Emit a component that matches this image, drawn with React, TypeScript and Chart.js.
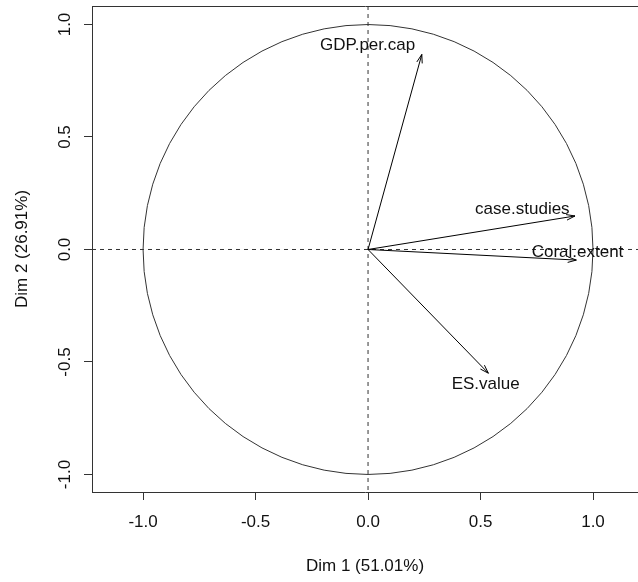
import React, { useEffect, useRef } from "react";
import { Chart, registerables } from "chart.js";

Chart.register(...registerables);

// Variables (arrows) on the first two dimensions
const variables = ["GDP.per.cap", "case.studies", "Coral.extent", "ES.value"];
const dim1 = [0.239, 0.92, 0.926, 0.535];
const dim2 = [0.867, 0.149, -0.047, -0.55];
// label anchor positions (data units)
const labelDim1 = [-0.002, 0.686, 0.931, 0.523];
const labelDim2 = [0.909, 0.18, -0.013, -0.598];

const xTicks = [-1.0, -0.5, 0.0, 0.5, 1.0];
const yTicks = [-1.0, -0.5, 0.0, 0.5, 1.0];
const xTitle = "Dim 1 (51.01%)";
const yTitle = "Dim 2 (26.91%)";

const FONT = "'Liberation Sans', Arial, sans-serif";
const FS = 17;
const TEXT = "#111";
const LINE = "#333";

const decorPlugin = {
  id: "decor",
  beforeDatasetsDraw(chart: any) {
    const { ctx, chartArea, scales } = chart;
    const xs = scales.x;
    const ys = scales.y;
    const x0 = xs.getPixelForValue(0);
    const y0 = ys.getPixelForValue(0);
    ctx.save();
    // top border
    ctx.strokeStyle = LINE;
    ctx.lineWidth = 1;
    ctx.beginPath();
    ctx.moveTo(chartArea.left, chartArea.top + 0.5);
    ctx.lineTo(chartArea.right + 10, chartArea.top + 0.5);
    ctx.stroke();
    // dashed axes
    ctx.setLineDash([4, 4]);
    ctx.beginPath();
    ctx.moveTo(chartArea.left, y0);
    ctx.lineTo(chartArea.right, y0);
    ctx.moveTo(x0, chartArea.top);
    ctx.lineTo(x0, chartArea.bottom);
    ctx.stroke();
    ctx.setLineDash([]);
    // unit circle
    const r = xs.getPixelForValue(1) - x0;
    ctx.beginPath();
    ctx.arc(x0, y0, r, 0, Math.PI * 2);
    ctx.stroke();
    ctx.restore();
  },
  afterDatasetsDraw(chart: any) {
    const { ctx, scales } = chart;
    const xs = scales.x;
    const ys = scales.y;
    const x0 = xs.getPixelForValue(0);
    const y0 = ys.getPixelForValue(0);
    ctx.save();
    ctx.strokeStyle = "#000";
    ctx.lineWidth = 1;
    const len = 9;
    const ang = (18 * Math.PI) / 180;
    for (let i = 0; i < variables.length; i++) {
      const tx = xs.getPixelForValue(dim1[i]);
      const ty = ys.getPixelForValue(dim2[i]);
      const a = Math.atan2(ty - y0, tx - x0);
      ctx.beginPath();
      ctx.moveTo(tx - len * Math.cos(a - ang), ty - len * Math.sin(a - ang));
      ctx.lineTo(tx, ty);
      ctx.lineTo(tx - len * Math.cos(a + ang), ty - len * Math.sin(a + ang));
      ctx.stroke();
    }
    ctx.fillStyle = TEXT;
    ctx.font = `${FS}px ${FONT}`;
    ctx.textAlign = "center";
    ctx.textBaseline = "middle";
    for (let i = 0; i < variables.length; i++) {
      ctx.fillText(
        variables[i],
        xs.getPixelForValue(labelDim1[i]),
        ys.getPixelForValue(labelDim2[i])
      );
    }
    ctx.restore();
  },
};

export default function App() {
  const ref = useRef<HTMLCanvasElement | null>(null);
  useEffect(() => {
    if (!ref.current) return;
    const datasets = variables.map((v, i) => ({
      label: v,
      data: [
        { x: 0, y: 0 },
        { x: dim1[i], y: dim2[i] },
      ],
      showLine: true,
      borderColor: "#000",
      borderWidth: 1,
      pointRadius: 0,
      fill: false,
    }));
    const font = { family: FONT, size: FS };
    const chart = new Chart(ref.current, {
      type: "scatter",
      data: { datasets },
      plugins: [decorPlugin],
      options: {
        animation: false,
        responsive: false,
        devicePixelRatio: 1,
        layout: { padding: { top: 6, left: 0, right: 0, bottom: 0 } },
        plugins: { legend: { display: false }, tooltip: { enabled: false } },
        scales: {
          x: {
            type: "linear",
            position: "bottom",
            min: -1.227,
            max: 1.2,
            afterBuildTicks: (s: any) => {
              s.ticks = xTicks.map((v) => ({ value: v }));
            },
            afterFit: (s: any) => {
              s.height = 90;
              s.paddingLeft = 0;
              s.paddingRight = 0;
            },
            ticks: {
              callback: (v: any) => Number(v).toFixed(1),
              font,
              color: TEXT,
              padding: 12,
              autoSkip: false,
              maxRotation: 0,
            },
            grid: {
              drawOnChartArea: false,
              drawTicks: true,
              tickLength: 8,
              tickColor: LINE,
            },
            border: { display: true, color: LINE, width: 1 },
            title: {
              display: true,
              text: xTitle,
              font,
              color: TEXT,
              padding: { top: 0, bottom: 5 },
            },
          },
          y: {
            type: "linear",
            position: "left",
            min: -1.0778,
            max: 1.0822,
            afterBuildTicks: (s: any) => {
              s.ticks = yTicks.map((v) => ({ value: v }));
            },
            afterFit: (s: any) => {
              s.width = 92;
              s.paddingTop = 0;
              s.paddingBottom = 0;
            },
            ticks: {
              callback: (v: any) => Number(v).toFixed(1),
              font,
              color: TEXT,
              padding: 4,
              autoSkip: false,
              minRotation: 90,
              maxRotation: 90,
              crossAlign: "center",
            },
            grid: {
              drawOnChartArea: false,
              drawTicks: true,
              tickLength: 8,
              tickColor: LINE,
            },
            border: { display: true, color: LINE, width: 1 },
            title: {
              display: true,
              text: yTitle,
              font,
              color: TEXT,
              padding: { top: 12, bottom: 0 },
            },
          },
        },
      },
    } as any);
    return () => chart.destroy();
  }, []);
  return (
    <div style={{ position: "fixed", left: 0, top: 0, width: 638, height: 582, background: "#fff" }}>
      <canvas ref={ref} width={638} height={582} style={{ display: "block" }} />
    </div>
  );
}
